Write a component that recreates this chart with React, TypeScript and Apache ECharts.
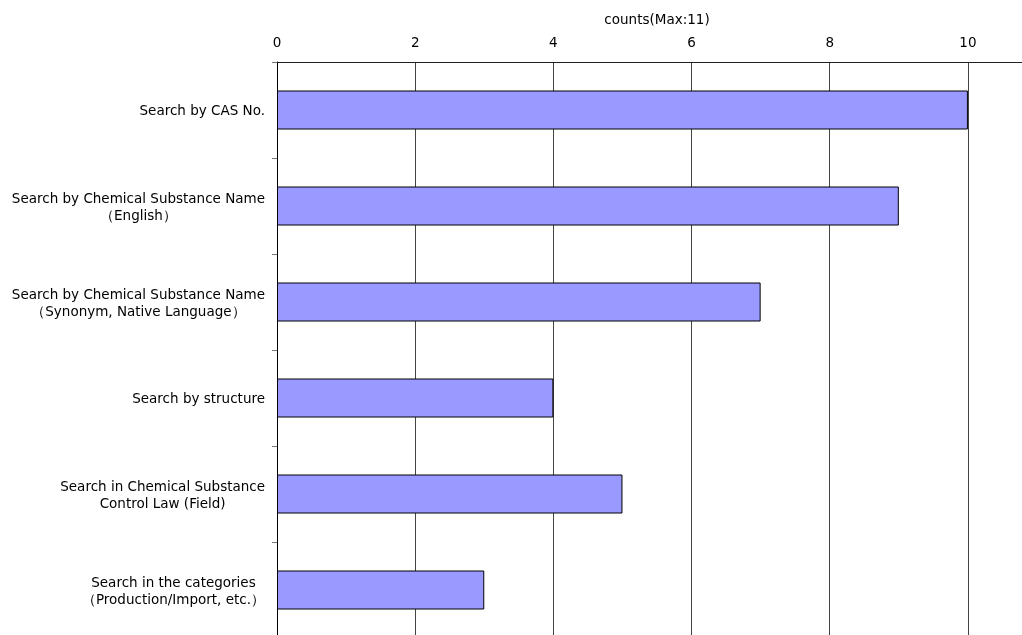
import React, { useEffect, useRef } from "react";
import * as echarts from "echarts";

const categories = [
  ["Search by CAS No."],
  ["Search by Chemical Substance Name", "（English）"],
  ["Search by Chemical Substance Name", "（Synonym, Native Language）"],
  ["Search by structure"],
  ["Search in Chemical Substance", "Control Law (Field)"],
  ["Search in the categories", "（Production/Import, etc.）"],
];
const counts = [10, 9, 7, 4, 5, 3];
const axisTitle = "counts(Max:11)";
const xMax = 11;
const xInterval = 2;

export default function App() {
  const ref = useRef<HTMLDivElement>(null);
  useEffect(() => {
    document.body.style.margin = "0";
    document.body.style.overflow = "hidden";
    const chart = echarts.init(ref.current!, null, { renderer: "svg" });
    const font = "'DejaVu Sans', sans-serif";
    const fs = 13.5;
    chart.setOption({
      animation: false,
      textStyle: { fontFamily: font },
      grid: { left: 277, top: 62, width: 760, height: 576, containLabel: false },
      xAxis: {
        type: "value",
        position: "top",
        min: 0,
        max: xMax,
        interval: xInterval,
        name: axisTitle,
        nameLocation: "middle",
        nameGap: 36,
        nameTextStyle: { color: "#000", fontSize: fs, fontFamily: font },
        axisLine: { show: true, lineStyle: { color: "#222", width: 1 } },
        axisTick: { show: false },
        axisLabel: { color: "#000", fontSize: fs, fontFamily: font, margin: 13, showMaxLabel: false },
        splitLine: { show: true, lineStyle: { color: "#444", width: 1 } },
      },
      yAxis: {
        type: "category",
        inverse: true,
        data: categories.map((c) => c.join("\n")),
        axisLine: { show: true, lineStyle: { color: "#000", width: 1 } },
        axisTick: { show: true, length: 5, lineStyle: { color: "#777" } },
        axisLabel: {
          color: "#000",
          fontSize: fs,
          fontFamily: font,
          margin: 12,
          lineHeight: 17,
          formatter: (v: string) => v.split("\n").map((l) => "{c|" + l + "}").join("\n"),
          rich: { c: { align: "center", fontSize: fs, fontFamily: font, color: "#000", lineHeight: 17 } },
        },
        splitLine: { show: false },
      },
      series: [
        {
          type: "bar",
          data: counts,
          barWidth: 39,
          itemStyle: { color: "#9999FF", borderColor: "#000", borderWidth: 1 },
        },
      ],
    });
    return () => chart.dispose();
  }, []);
  return <div ref={ref} style={{ position: "fixed", left: 0, top: 0, width: 1050, height: 650 }} />;
}
